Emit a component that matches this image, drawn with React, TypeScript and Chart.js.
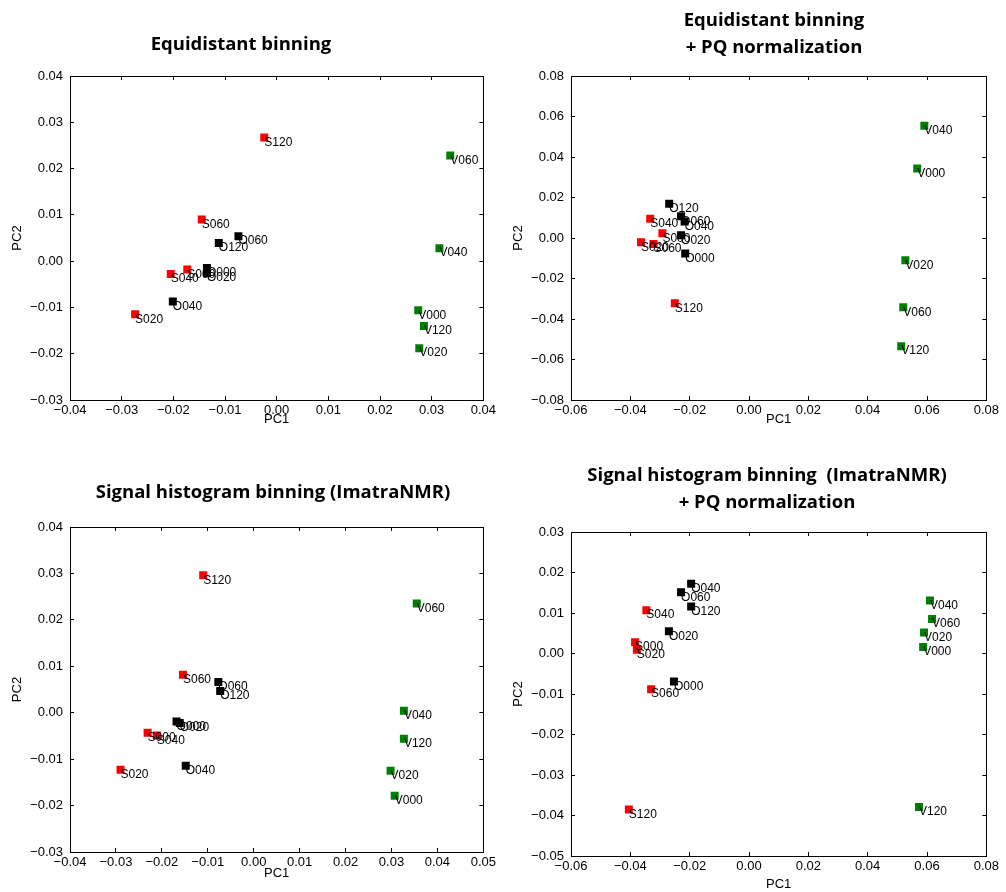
import React, { useEffect, useRef } from "react";
import { Chart, registerables } from "chart.js";

Chart.register(...registerables);

// sample time points used in the point labels (S/O/V + time)
const timepoints = ["000", "020", "040", "060", "120"];

// ---- Panel 1: Equidistant binning ----
const eqS_pc1 = [-0.0173, -0.0274, -0.0205, -0.0145, -0.0024];
const eqS_pc2 = [-0.0018, -0.0115, -0.0028, 0.009, 0.0267];
const eqO_pc1 = [-0.0135, -0.0135, -0.0201, -0.0074, -0.0112];
const eqO_pc2 = [-0.0015, -0.0026, -0.0087, 0.0054, 0.0039];
const eqV_pc1 = [0.0274, 0.0276, 0.0315, 0.0336, 0.0285];
const eqV_pc2 = [-0.0106, -0.0188, 0.0028, 0.0228, -0.014];
const eqXTicks = [-0.04, -0.03, -0.02, -0.01, 0, 0.01, 0.02, 0.03, 0.04];
const eqYTicks = [-0.03, -0.02, -0.01, 0, 0.01, 0.02, 0.03, 0.04];

// ---- Panel 2: Equidistant binning + PQ normalization ----
const eqpqS_pc1 = [-0.0292, -0.0364, -0.0333, -0.0322, -0.025];
const eqpqS_pc2 = [0.0023, -0.0021, 0.0095, -0.003, -0.0322];
const eqpqO_pc1 = [-0.0215, -0.0229, -0.0217, -0.0229, -0.0269];
const eqpqO_pc2 = [-0.0076, 0.0013, 0.0082, 0.0107, 0.0169];
const eqpqV_pc1 = [0.0567, 0.0527, 0.0591, 0.052, 0.0513];
const eqpqV_pc2 = [0.0343, -0.011, 0.0554, -0.0342, -0.0534];
const eqpqXTicks = [-0.06, -0.04, -0.02, 0, 0.02, 0.04, 0.06, 0.08];
const eqpqYTicks = [-0.08, -0.06, -0.04, -0.02, 0, 0.02, 0.04, 0.06, 0.08];

// ---- Panel 3: Signal histogram binning (ImatraNMR) ----
const shS_pc1 = [-0.0231, -0.029, -0.0211, -0.0154, -0.011];
const shS_pc2 = [-0.0043, -0.0123, -0.0049, 0.0082, 0.0296];
const shO_pc1 = [-0.0168, -0.0161, -0.0148, -0.0077, -0.0073];
const shO_pc2 = [-0.0019, -0.0022, -0.0114, 0.0066, 0.0047];
const shV_pc1 = [0.0307, 0.0298, 0.0327, 0.0355, 0.0327];
const shV_pc2 = [-0.0179, -0.0125, 0.0004, 0.0235, -0.0056];
const shXTicks = [-0.04, -0.03, -0.02, -0.01, 0, 0.01, 0.02, 0.03, 0.04, 0.05];
const shYTicks = [-0.03, -0.02, -0.01, 0, 0.01, 0.02, 0.03, 0.04];

// ---- Panel 4: Signal histogram binning (ImatraNMR) + PQ normalization ----
const shpqS_pc1 = [-0.0384, -0.0378, -0.0346, -0.033, -0.0405];
const shpqS_pc2 = [0.0028, 0.0009, 0.0107, -0.0088, -0.0385];
const shpqO_pc1 = [-0.0253, -0.027, -0.0195, -0.0229, -0.0195];
const shpqO_pc2 = [-0.0069, 0.0055, 0.0172, 0.0151, 0.0116];
const shpqV_pc1 = [0.0587, 0.059, 0.061, 0.0617, 0.0573];
const shpqV_pc2 = [0.0016, 0.0052, 0.0131, 0.0085, -0.0379];
const shpqXTicks = [-0.06, -0.04, -0.02, 0, 0.02, 0.04, 0.06, 0.08];
const shpqYTicks = [-0.05, -0.04, -0.03, -0.02, -0.01, 0, 0.01, 0.02, 0.03];

const TICK_FONT = { family: "'Liberation Sans', Arial, sans-serif", size: 13 };
const LABEL_FONT = "12px 'Liberation Sans', Arial, sans-serif";
const TITLE_FONT = "bold 18.5px 'Open Sans', sans-serif";

const fmt = (v: number) => (v < -1e-9 ? "\u2212" : "") + Math.abs(v).toFixed(2);

const pointLabels = {
  id: "pointLabels",
  afterDatasetDraw(chart: any, args: any) {
    const ds = chart.data.datasets[args.index];
    const ctx = chart.ctx;
    ctx.save();
    ctx.font = LABEL_FONT;
    ctx.fillStyle = "#000";
    ctx.textAlign = "left";
    ctx.textBaseline = "middle";
    args.meta.data.forEach((pt: any, i: number) => {
      ctx.fillText(ds.names[i], pt.x, pt.y + 5);
    });
    ctx.restore();
  },
};

const panelTitle = {
  id: "panelTitle",
  afterDraw(chart: any, _args: any, opts: any) {
    const ctx = chart.ctx;
    ctx.save();
    ctx.font = TITLE_FONT;
    ctx.fillStyle = "#000";
    ctx.textAlign = "center";
    ctx.textBaseline = "middle";
    (opts.lines || []).forEach((line: string, i: number) => {
      ctx.fillText(line, opts.x, opts.y + i * opts.gap);
    });
    ctx.restore();
  },
};

type Cfg = {
  left: number;
  top: number;
  title: string[];
  titleX: number;
  titleY: number;
  S: [number[], number[]];
  O: [number[], number[]];
  V: [number[], number[]];
  xTicks: number[];
  yTicks: number[];
  pad: { left: number; top: number; right: number; bottom: number };
  xAxisH: number;
  xTitlePad: number;
};

const panels: Cfg[] = [
  {
    left: 0, top: 0,
    title: ["Equidistant binning"], titleX: 241, titleY: 45,
    S: [eqS_pc1, eqS_pc2], O: [eqO_pc1, eqO_pc2], V: [eqV_pc1, eqV_pc2],
    xTicks: eqXTicks, yTicks: eqYTicks,
    pad: { left: 10, top: 76, right: 14, bottom: 6 }, xAxisH: 40, xTitlePad: 13,
  },
  {
    left: 503, top: 0,
    title: ["Equidistant binning", "+ PQ normalization"], titleX: 271, titleY: 21,
    S: [eqpqS_pc1, eqpqS_pc2], O: [eqpqO_pc1, eqpqO_pc2], V: [eqpqV_pc1, eqpqV_pc2],
    xTicks: eqpqXTicks, yTicks: eqpqYTicks,
    pad: { left: 8, top: 76, right: 17, bottom: 6 }, xAxisH: 40, xTitlePad: 13,
  },
  {
    left: 0, top: 446,
    title: ["Signal histogram binning (ImatraNMR)"], titleX: 273, titleY: 47,
    S: [shS_pc1, shS_pc2], O: [shO_pc1, shO_pc2], V: [shV_pc1, shV_pc2],
    xTicks: shXTicks, yTicks: shYTicks,
    pad: { left: 10, top: 81, right: 14, bottom: 0 }, xAxisH: 40, xTitlePad: 11,
  },
  {
    left: 503, top: 446,
    title: ["Signal histogram binning  (ImatraNMR)", "+ PQ normalization"], titleX: 264, titleY: 30,
    S: [shpqS_pc1, shpqS_pc2], O: [shpqO_pc1, shpqO_pc2], V: [shpqV_pc1, shpqV_pc2],
    xTicks: shpqXTicks, yTicks: shpqYTicks,
    pad: { left: 8, top: 86, right: 17, bottom: 0 }, xAxisH: 36, xTitlePad: 0,
  },
];

function makeDataset(prefix: string, color: string, xs: number[], ys: number[], order: number) {
  return {
    label: prefix,
    names: timepoints.map((t) => prefix + t),
    data: xs.map((x, i) => ({ x, y: ys[i] })),
    backgroundColor: color,
    borderColor: color,
    pointBackgroundColor: color,
    pointBorderColor: color,
    pointBorderWidth: 0,
    pointStyle: "rect",
    pointRadius: 5.657,
    pointHoverRadius: 5.657,
    showLine: false,
    order,
  };
}

function axis(ticksArr: number[], position: string, showLabels: boolean, extra: any) {
  return {
    type: "linear",
    position,
    min: ticksArr[0],
    max: ticksArr[ticksArr.length - 1],
    afterBuildTicks: (s: any) => {
      s.ticks = ticksArr.map((v) => ({ value: v }));
    },
    border: { display: true, color: "#000", width: 1 },
    grid: {
      drawOnChartArea: false,
      drawTicks: true,
      tickLength: -4,
      tickColor: "#000",
      tickWidth: 1,
    },
    ticks: {
      display: showLabels,
      autoSkip: false,
      maxRotation: 0,
      minRotation: 0,
      color: "#000",
      font: TICK_FONT,
      callback: (v: number) => fmt(v),
    },
    ...extra,
  };
}

function Panel({ cfg }: { cfg: Cfg }) {
  const ref = useRef<HTMLCanvasElement>(null);
  useEffect(() => {
    if (!ref.current) return;
    const datasets = [
      makeDataset("S", "#ff0000", cfg.S[0], cfg.S[1], 3),
      makeDataset("O", "#000000", cfg.O[0], cfg.O[1], 2),
      makeDataset("V", "#008000", cfg.V[0], cfg.V[1], 1),
    ];
    const xAx = axis(cfg.xTicks, "bottom", true, {
      title: {
        display: true,
        text: "PC1",
        color: "#000",
        font: TICK_FONT,
        padding: { top: 0, bottom: cfg.xTitlePad },
      },
      afterFit: (s: any) => {
        s.height = cfg.xAxisH;
      },
    });
    xAx.ticks = { ...xAx.ticks, padding: 7 };
    const yAx = axis(cfg.yTicks, "left", true, {
      title: {
        display: true,
        text: "PC2",
        color: "#000",
        font: TICK_FONT,
        padding: 0,
      },
      afterFit: (s: any) => {
        s.width = 60;
      },
    });
    yAx.ticks = { ...yAx.ticks, padding: 11 };
    const x2 = axis(cfg.xTicks, "top", false, {
      afterFit: (s: any) => {
        s.height = 0;
      },
    });
    const y2 = axis(cfg.yTicks, "right", false, {
      afterFit: (s: any) => {
        s.width = 0;
      },
    });
    const chart = new Chart(ref.current, {
      type: "scatter",
      data: { datasets } as any,
      options: {
        responsive: false,
        animation: false,
        layout: { padding: cfg.pad },
        scales: { x: xAx, y: yAx, x2, y2 } as any,
        plugins: {
          legend: { display: false },
          tooltip: { enabled: false },
          title: { display: false },
          panelTitle: { lines: cfg.title, x: cfg.titleX, y: cfg.titleY, gap: 27 },
        } as any,
        events: [],
      },
      plugins: [pointLabels, panelTitle] as any,
    });
    return () => chart.destroy();
  }, []);
  return (
    <canvas
      ref={ref}
      width={503}
      height={446}
      style={{ position: "absolute", left: cfg.left, top: cfg.top, width: 503, height: 446 }}
    />
  );
}

export default function App() {
  return (
    <div style={{ position: "absolute", left: 0, top: 0, width: 1006, height: 892, background: "#fff" }}>
      {panels.map((p, i) => (
        <Panel key={i} cfg={p} />
      ))}
    </div>
  );
}
